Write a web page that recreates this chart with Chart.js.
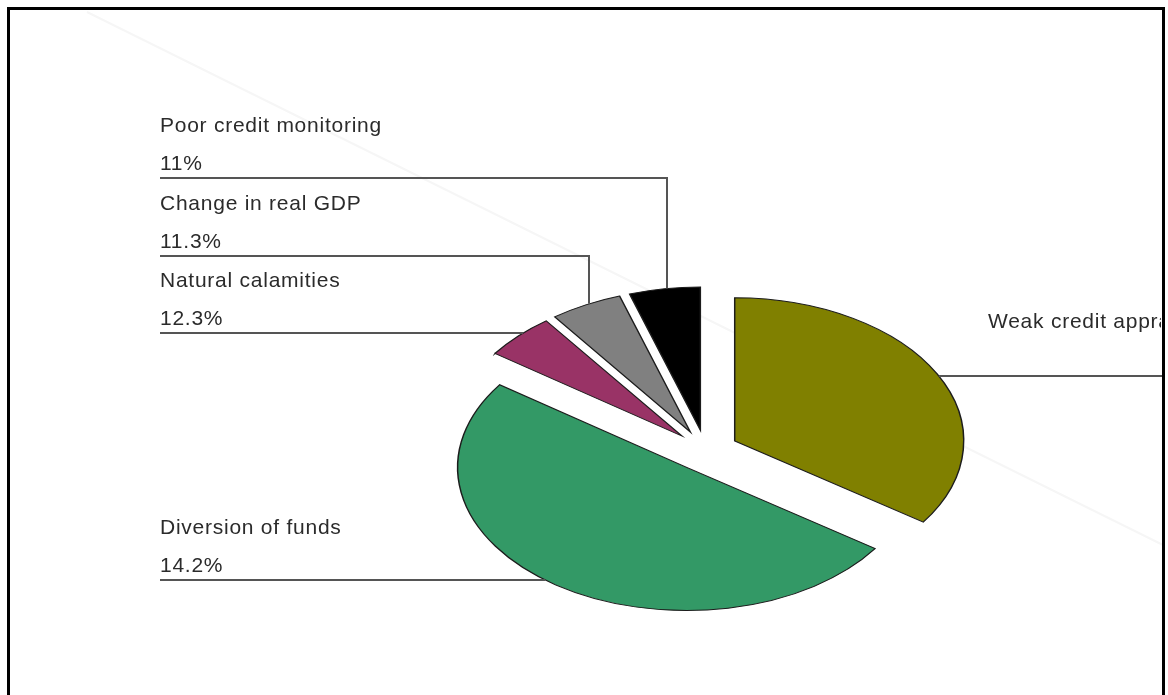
<!DOCTYPE html>
<html lang="en">
<head>
  <meta charset="UTF-8" />
  <title>Causes of NPAs</title>
  <script src="https://cdn.jsdelivr.net/npm/chart.js"></script>
  <style>
    * { box-sizing: border-box; margin: 0; padding: 0; }
    body { background: #fff; width: 1168px; height: 695px; overflow: hidden; position: relative; }
    .frame { position: absolute; left: 7px; top: 7px; width: 1158px; height: 720px; border: 3px solid #000; border-bottom: none; pointer-events: none; }
    .wrap { position: absolute; left: 0; top: 0; width: 1168px; height: 695px; }
  </style>
</head>
<body>
  <div class="wrap"><canvas id="pie"></canvas></div>
  <div class="frame"></div>

  <script>
    // slices, clockwise from 12 o'clock
    const causes = ["Weak credit appraisal", "Diversion of funds", "Natural calamities", "Change in real GDP", "Poor credit monitoring"];
    const shares = [34.6, 50.2, 5.1, 5.1, 5.0];
    const pctLabels = ["", "14.2%", "12.3%", "11.3%", "11%"];
    const colors = ["#808000", "#339966", "#993366", "#808080", "#000000"];

    const SQUASH = 0.625;   // flattened pie
    const EXPLODE = 33;     // every slice pulled out

    // where the leader lines sit (label underline y, or vertical drop x)
    const leaders = [
      { side: "right", y: 376, textX: 988 },
      { side: "left", y: 580 },
      { side: "left", y: 333 },
      { side: "up", x: 589, y: 256 },
      { side: "up", x: 667, y: 178 }
    ];

    const center = chart => {
      const a = chart.chartArea;
      return { cx: (a.left + a.right) / 2, cy: (a.top + a.bottom) / 2 };
    };

    const explodePlugin = {
      id: "explode",
      afterDatasetsUpdate(chart) {
        chart.getDatasetMeta(0).data.forEach(arc => {
          const mid = (arc.startAngle + arc.endAngle) / 2;
          arc.x += Math.cos(mid) * EXPLODE;
          arc.y += Math.sin(mid) * EXPLODE;
        });
      }
    };

    const squashPlugin = {
      id: "squash",
      beforeDatasetsDraw(chart) {
        const ctx = chart.ctx;
        // faint diagonal streak in the background
        ctx.save();
        ctx.strokeStyle = "#f6f6f6";
        ctx.lineWidth = 2;
        ctx.beginPath();
        ctx.moveTo(87, 12);
        ctx.lineTo(1163, 545);
        ctx.stroke();
        ctx.restore();

        const { cx, cy } = center(chart);
        ctx.save();
        ctx.translate(cx, cy);
        ctx.scale(1, SQUASH);
        ctx.translate(-cx, -cy);
      },
      afterDatasetsDraw(chart) {
        chart.ctx.restore();
      }
    };

    const labelPlugin = {
      id: "sliceLabels",
      afterDraw(chart) {
        const ctx = chart.ctx;
        const { cy } = center(chart);
        const arcs = chart.getDatasetMeta(0).data;
        ctx.save();
        ctx.font = "21px 'Liberation Sans', Arial, sans-serif";
        ctx.letterSpacing = "0.75px";
        ctx.fillStyle = "#2b2b2b";
        ctx.strokeStyle = "#555";
        ctx.lineWidth = 2;
        ctx.textBaseline = "alphabetic";

        arcs.forEach((arc, i) => {
          const L = leaders[i];
          const sx = arc.x;
          const sy = cy + (arc.y - cy) * SQUASH;
          const rx = arc.outerRadius;
          const ry = arc.outerRadius * SQUASH;
          ctx.beginPath();
          if (L.side === "up") {
            const dx = (L.x - sx) / rx;
            const ey = sy - ry * Math.sqrt(1 - dx * dx);
            ctx.moveTo(160, L.y);
            ctx.lineTo(L.x, L.y);
            ctx.lineTo(L.x, ey);
          } else {
            const dy = (L.y - sy) / ry;
            const ex = Math.sqrt(1 - dy * dy) * rx;
            if (L.side === "left") {
              ctx.moveTo(160, L.y);
              ctx.lineTo(sx - ex, L.y);
            } else {
              ctx.moveTo(sx + ex, L.y);
              ctx.lineTo(1163, L.y);
            }
          }
          ctx.stroke();

          if (L.side === "right") {
            ctx.save();
            ctx.beginPath();
            ctx.rect(0, 0, 1161, 695);
            ctx.clip();
            ctx.fillText(causes[i], L.textX, L.y - 48);
            ctx.restore();
          } else {
            ctx.fillText(causes[i], 160, L.y - 46);
            ctx.fillText(pctLabels[i], 160, L.y - 8);
          }
        });
        ctx.restore();
      }
    };

    new Chart(document.getElementById("pie"), {
      type: "pie",
      data: {
        labels: causes,
        datasets: [{
          data: shares,
          backgroundColor: colors,
          borderColor: "#1c1c1c",
          borderWidth: 1.5,
          borderJoinStyle: "miter",
          clip: false
        }]
      },
      options: {
        responsive: true,
        maintainAspectRatio: false,
        animation: false,
        radius: 229,
        layout: { padding: { left: 243, right: 0, top: 206, bottom: 0 } },
        plugins: {
          legend: { display: false },
          tooltip: { enabled: false }
        }
      },
      plugins: [explodePlugin, squashPlugin, labelPlugin]
    });
  </script>
</body>
</html>
